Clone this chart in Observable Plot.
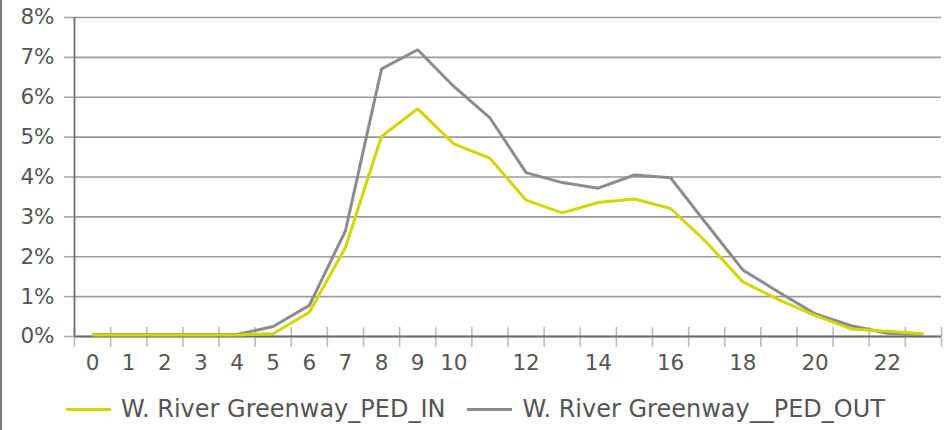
<!DOCTYPE html>
<html>
<head>
<meta charset="utf-8">
<script src="https://cdn.jsdelivr.net/npm/d3@7"></script>
<script src="https://cdn.jsdelivr.net/npm/@observablehq/plot@0.6"></script>
<style>
  html, body { margin: 0; padding: 0; background: #fff; }
  #wrap { position: relative; width: 951px; height: 430px; overflow: hidden; font-family: "DejaVu Sans", sans-serif; }
  #border { position: absolute; left: 0; top: 0; width: 2px; height: 430px; background: #7a7a7a; }
  #legend { display: flex; justify-content: center; align-items: center; height: 42px; font-size: 24px; color: #555; }
  .item { display: flex; align-items: center; margin: 0 11px; }
  .sw { width: 45px; height: 3px; margin-right: 10px; }
</style>
</head>
<body>
<div id="wrap">
  <div id="chart"></div>
  <div id="legend"></div>
  <div id="border"></div>
</div>
<script>
const hours = d3.range(0, 24);
const pedIn  = [0.04,0.04,0.04,0.04,0.04,0.07,0.61,2.23,5.02,5.71,4.83,4.47,3.42,3.10,3.36,3.45,3.21,2.36,1.37,0.92,0.53,0.19,0.13,0.07];
const pedOut = [0.05,0.05,0.05,0.05,0.05,0.25,0.78,2.65,6.71,7.19,6.27,5.48,4.11,3.86,3.72,4.05,3.98,2.82,1.67,1.11,0.57,0.27,0.08,0.05];
const seriesNames = ["W. River Greenway_PED_IN", "W. River Greenway__PED_OUT"];
const seriesColors = ["#d2d600", "#8c8c8c"];
const xTickLabels = [0,1,2,3,4,5,6,7,8,9,10,12,14,16,18,20,22];
const yTicks = [0,1,2,3,4,5,6,7,8];

const data = [];
hours.forEach((h, i) => {
  data.push({hour: h, value: pedOut[i], series: seriesNames[1]});
});
hours.forEach((h, i) => {
  data.push({hour: h, value: pedIn[i], series: seriesNames[0]});
});
const boundaries = hours.map(h => h - 0.5).concat([hours[hours.length - 1] + 0.5]);

const chart = Plot.plot({
  width: 951,
  height: 388,
  marginLeft: 74,
  marginRight: 10,
  marginTop: 17,
  marginBottom: 52,
  style: {fontFamily: "DejaVu Sans, sans-serif", fontSize: "21.5px", color: "#555", background: "#fff"},
  x: {type: "linear", domain: [boundaries[0], boundaries[boundaries.length - 1]]},
  y: {domain: [0, 8]},
  color: {domain: seriesNames, range: seriesColors},
  marks: [
    Plot.gridY(yTicks, {stroke: "#9a9a9a", strokeOpacity: 1, strokeWidth: 1.6}),
    Plot.axisY(yTicks, {tickSize: 10, tickPadding: 10, stroke: "#aaa", strokeWidth: 1.6, tickFormat: d => d + "%", fill: "#555", label: null}),
    Plot.axisX(xTickLabels, {tickSize: 0, tickPadding: 18, fill: "#555", label: null, tickFormat: d => String(d)}),
    Plot.ruleX(boundaries, {y1: 0, y2: 0, insetTop: -9, insetBottom: -11, stroke: "#bbb", strokeWidth: 1.6}),
    Plot.ruleX([boundaries[0]], {stroke: "#6e6e6e", strokeWidth: 1.8}),
    Plot.ruleY([0], {stroke: "#6e6e6e", strokeWidth: 1.8}),
    Plot.lineY(data, {x: "hour", y: "value", z: "series", stroke: "series", strokeWidth: 3, strokeLinejoin: "miter", strokeLinecap: "butt"})
  ]
});
document.getElementById("chart").appendChild(chart);

const legend = document.getElementById("legend");
seriesNames.forEach((name, i) => {
  const item = document.createElement("div");
  item.className = "item";
  const sw = document.createElement("span");
  sw.className = "sw";
  sw.style.background = seriesColors[i];
  const t = document.createElement("span");
  t.textContent = name;
  item.appendChild(sw);
  item.appendChild(t);
  legend.appendChild(item);
});
</script>
</body>
</html>
